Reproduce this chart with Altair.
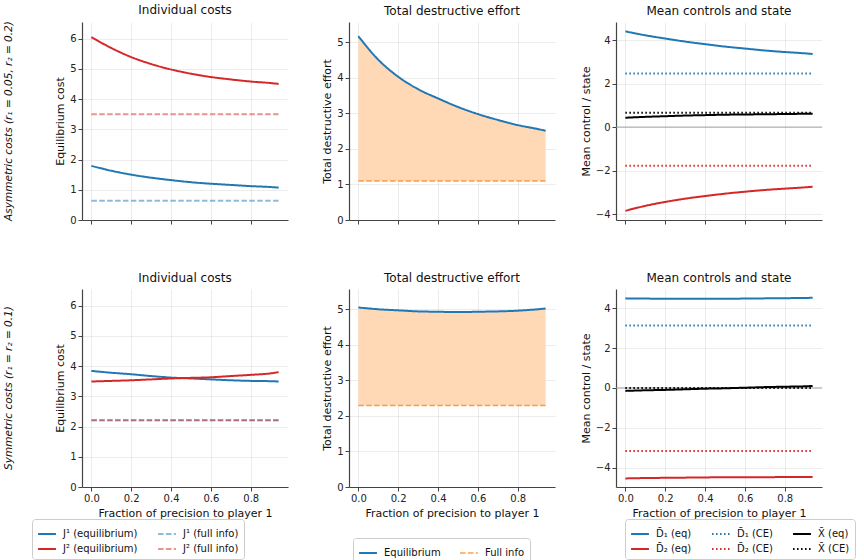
import altair as alt
import pandas as pd

# ---------------- data ----------------
X = [0.0, 0.1, 0.2, 0.3, 0.4, 0.5, 0.6, 0.7, 0.8, 0.9, 0.94]
XTICKS = [0.0, 0.2, 0.4, 0.6, 0.8]

# Row 1: asymmetric costs
J1_EQ_A = [1.79, 1.63, 1.50, 1.40, 1.32, 1.25, 1.20, 1.16, 1.12, 1.09, 1.07]
J2_EQ_A = [6.05, 5.69, 5.39, 5.16, 4.98, 4.84, 4.73, 4.65, 4.58, 4.53, 4.50]
J1_FULL_A = 0.64
J2_FULL_A = 3.50
EFF_EQ_A = [5.17, 4.51, 4.03, 3.68, 3.42, 3.18, 2.98, 2.815, 2.67, 2.56, 2.51]
EFF_FULL_A = 1.10
D1_EQ_A = [4.40, 4.22, 4.07, 3.93, 3.81, 3.70, 3.61, 3.52, 3.45, 3.39, 3.36]
D2_EQ_A = [-3.85, -3.62, -3.44, -3.29, -3.17, -3.06, -2.97, -2.89, -2.83, -2.77, -2.74]
XB_EQ_A = [0.43, 0.47, 0.50, 0.53, 0.55, 0.57, 0.58, 0.59, 0.60, 0.61, 0.61]
D1_CE_A = 2.46
D2_CE_A = -1.78
XB_CE_A = 0.66

# Row 2: symmetric costs
J1_EQ_S = [3.84, 3.78, 3.73, 3.67, 3.62, 3.59, 3.56, 3.53, 3.51, 3.50, 3.49]
J2_EQ_S = [3.49, 3.51, 3.53, 3.56, 3.59, 3.61, 3.63, 3.67, 3.71, 3.76, 3.80]
J1_FULL_S = 2.21
J2_FULL_S = 2.21
EFF_EQ_S = [5.05, 5.00, 4.97, 4.94, 4.93, 4.92, 4.93, 4.94, 4.96, 5.00, 5.02]
EFF_FULL_S = 2.29
D1_EQ_S = [4.49, 4.48, 4.47, 4.47, 4.47, 4.47, 4.48, 4.49, 4.50, 4.51, 4.52]
D2_EQ_S = [-4.54, -4.52, -4.51, -4.50, -4.49, -4.48, -4.48, -4.48, -4.47, -4.47, -4.47]
XB_EQ_S = [-0.15, -0.12, -0.10, -0.07, -0.04, -0.02, 0.01, 0.04, 0.06, 0.08, 0.10]
D1_CE_S = 3.13
D2_CE_S = -3.17
XB_CE_S = 0.0

ZERO = [0.0]

ROW_LABELS = ["Asymmetric costs (r\u2081 = 0.05, r\u2082 = 0.2)",
              "Symmetric costs (r\u2081 = r\u2082 = 0.1)"]
TITLES = ["Individual costs", "Total destructive effort", "Mean controls and state"]
YTITLES = ["Equilibrium cost", "Total destructive effort", "Mean control / state"]
XTITLE = "Fraction of precision to player 1"

# legend order is filled column by column
COST_SERIES = ["J\u00b9 (equilibrium)", "J\u00b2 (equilibrium)",
               "J\u00b9 (full info)", "J\u00b2 (full info)"]
EFF_SERIES = ["Equilibrium", "Full info"]
CTRL_SERIES = ["D\u0304\u2081 (eq)", "D\u0304\u2082 (eq)", "D\u0304\u2081 (CE)",
               "D\u0304\u2082 (CE)", "X\u0304 (eq)", "X\u0304 (CE)"]

# ---------------- styles ----------------
BLUE = "#1f77b4"
RED = "#d62728"
BLUE_L = "rgba(31,119,180,0.5)"
RED_L = "rgba(214,39,40,0.5)"
ORANGE_L = "rgba(255,127,14,0.75)"
FILL = "#ffd8b6"
BLACK = "#000000"
SOLID = [1, 0]
DASHED = [5.5, 2.4]
DOTTED = [1.5, 2.5]

COST_STYLE = dict(colors=[BLUE, RED, BLUE_L, RED_L],
                  dashes=[SOLID, SOLID, DASHED, DASHED],
                  widths=[2.0, 2.0, 1.5, 1.5])
EFF_STYLE = dict(colors=[BLUE, ORANGE_L], dashes=[SOLID, DASHED], widths=[2.0, 1.5])
CTRL_STYLE = dict(colors=[BLUE, RED, BLUE, RED, BLACK, BLACK],
                  dashes=[SOLID, SOLID, DOTTED, DOTTED, SOLID, DOTTED],
                  widths=[2.0, 2.0, 1.5, 1.5, 2.5, 1.5])

XDOM = [-0.047, 0.987]
W, H = 206, 198


def const(v):
    return [v] * len(X)


def long_df(names, values):
    rows = []
    for name, vals in zip(names, values):
        for xv, yv in zip(X, vals):
            rows.append({"x": xv, "y": yv, "series": name})
    return pd.DataFrame(rows)


def x_enc(row):
    if row == 0:
        ax = alt.Axis(values=XTICKS, labels=False, title=None)
    else:
        ax = alt.Axis(values=XTICKS, format=".1f", title=XTITLE)
    return alt.X("x:Q", scale=alt.Scale(domain=XDOM, nice=False, zero=False), axis=ax)


def y_enc(field, ydom, yticks, ytitle):
    return alt.Y(field, scale=alt.Scale(domain=ydom, nice=False, zero=False),
                 axis=alt.Axis(values=yticks, format="d", title=ytitle))


def make_legend(lx, ly, cols):
    return alt.Legend(orient="none", legendX=lx, legendY=ly, columns=cols, title=None,
                      symbolType="stroke", symbolSize=320, labelFontSize=10,
                      labelOffset=6, rowPadding=-1, columnPadding=16,
                      strokeColor="#cccccc", fillColor="white", padding=5,
                      cornerRadius=3, labelColor="#111111")


def series_layer(df, names, style, row, ydom, yticks, ytitle, legend_pos):
    leg = None if row == 0 else make_legend(*legend_pos)
    return alt.Chart(df).mark_line(interpolate="monotone").encode(
        x=x_enc(row),
        y=y_enc("y:Q", ydom, yticks, ytitle),
        color=alt.Color("series:N", scale=alt.Scale(domain=names, range=style["colors"]), legend=leg),
        strokeDash=alt.StrokeDash("series:N", scale=alt.Scale(domain=names, range=style["dashes"]), legend=leg),
        strokeWidth=alt.StrokeWidth("series:N", scale=alt.Scale(domain=names, range=style["widths"]), legend=leg),
        detail="series:N",
    )


def row_label(row):
    return alt.Chart(pd.DataFrame({"label": [ROW_LABELS[row]]})).mark_text(
        angle=270, fontStyle="italic", fontSize=10.5, color="#111111"
    ).encode(x=alt.value(-73), y=alt.value(H / 2), text="label:N")


def cost_panel(row, j1, j2, f1, f2):
    df = long_df(COST_SERIES, [j1, j2, const(f1), const(f2)])
    lines = series_layer(df, COST_SERIES, COST_STYLE, row, [0, 6.55], [0, 1, 2, 3, 4, 5, 6],
                         YTITLES[0], (-50, 230, 2))
    return alt.layer(lines, row_label(row)).properties(width=W, height=H, title=TITLES[0])


def effort_panel(row, eq, full, ydom):
    area_df = pd.DataFrame({"x": X, "y": eq, "y2": const(full)})
    area = alt.Chart(area_df).mark_area(color=FILL, interpolate="monotone").encode(
        x=x_enc(row),
        y=y_enc("y:Q", ydom, [0, 1, 2, 3, 4, 5], YTITLES[1]),
        y2="y2:Q",
    )
    df = long_df(EFF_SERIES, [eq, const(full)])
    lines = series_layer(df, EFF_SERIES, EFF_STYLE, row, ydom, [0, 1, 2, 3, 4, 5],
                         YTITLES[1], (4, 249, 2))
    return alt.layer(area, lines).properties(width=W, height=H, title=TITLES[1])


def ctrl_panel(row, d1, d2, xb, d1c, d2c, xbc, ydom):
    zero = alt.Chart(pd.DataFrame({"y": ZERO})).mark_rule(color="#9a9a9a", strokeWidth=0.9).encode(
        y=y_enc("y:Q", ydom, [-4, -2, 0, 2, 4], YTITLES[2])
    )
    df = long_df(CTRL_SERIES, [d1, d2, const(d1c), const(d2c), xb, const(xbc)])
    lines = series_layer(df, CTRL_SERIES, CTRL_STYLE, row, ydom, [-4, -2, 0, 2, 4],
                         YTITLES[2], (9, 230, 3))
    return alt.layer(zero, lines).properties(width=W, height=H, title=TITLES[2])


RES = dict(color="independent", strokeDash="independent", strokeWidth="independent")

panels = [
    cost_panel(0, J1_EQ_A, J2_EQ_A, J1_FULL_A, J2_FULL_A),
    effort_panel(0, EFF_EQ_A, EFF_FULL_A, [0, 5.57]),
    ctrl_panel(0, D1_EQ_A, D2_EQ_A, XB_EQ_A, D1_CE_A, D2_CE_A, XB_CE_A, [-4.27, 4.83]),
    cost_panel(1, J1_EQ_S, J2_EQ_S, J1_FULL_S, J2_FULL_S),
    effort_panel(1, EFF_EQ_S, EFF_FULL_S, [0, 5.57]),
    ctrl_panel(1, D1_EQ_S, D2_EQ_S, XB_EQ_S, D1_CE_S, D2_CE_S, XB_CE_S, [-4.97, 4.96]),
]

chart = alt.concat(
    *panels, columns=3, spacing={"row": 69, "column": 61}, bounds="flush"
).resolve_scale(**RES).properties(
    padding={"left": 4, "top": 4, "right": 4, "bottom": 4},
    background="white",
).configure(font="DejaVu Sans").configure_view(stroke=None).configure_axis(
    grid=True, gridColor="#b0b0b0", gridOpacity=0.3, gridWidth=0.8,
    domainColor="#444444", domainWidth=1.2, tickColor="#444444", tickSize=4,
    labelFontSize=10, labelColor="#222222", labelPadding=2,
    titleFontSize=11, titleFontWeight="normal", titleColor="#111111",
).configure_title(fontSize=12, fontWeight="normal", offset=4, color="#111111")

chart.save("out.html", embed_options={"renderer": "svg", "actions": False})
